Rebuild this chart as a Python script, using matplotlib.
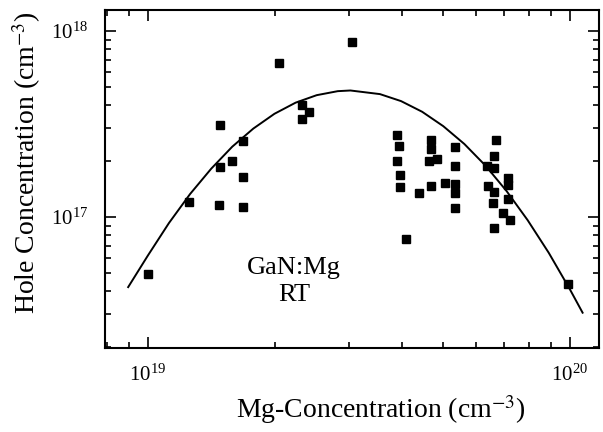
import numpy as np
import matplotlib
matplotlib.use("Agg")
import matplotlib.pyplot as plt
from matplotlib.ticker import LogLocator, LogFormatterMathtext, NullFormatter

plt.rcParams['font.family'] = ['Liberation Serif', 'DejaVu Serif']
plt.rcParams['mathtext.fontset'] = 'stix'

# measured points: Mg concentration (cm^-3) and hole concentration (cm^-3)
mg_conc = [1.0e19, 1.25e19, 1.475e19, 1.68e19, 1.486e19, 1.68e19, 1.58e19,
           1.486e19, 1.68e19, 2.05e19, 2.32e19, 2.41e19, 2.32e19, 3.05e19,
           3.885e19, 3.94e19, 3.885e19, 3.956e19, 3.956e19, 4.39e19, 4.08e19,
           4.70e19, 4.70e19, 4.64e19, 4.85e19, 4.70e19, 5.06e19,
           5.34e19, 5.34e19, 5.34e19, 5.34e19, 5.34e19,
           6.68e19, 6.61e19, 6.37e19, 6.61e19, 6.40e19, 6.61e19, 6.57e19,
           6.61e19, 7.12e19, 7.12e19, 7.12e19, 6.95e19, 7.21e19, 9.91e19]
hole_conc = [4.94e16, 1.20e17, 1.166e17, 1.126e17, 3.13e17, 2.57e17, 1.99e17,
             1.853e17, 1.65e17, 6.75e17, 4.02e17, 3.67e17, 3.37e17, 8.69e17,
             2.75e17, 2.40e17, 2.0e17, 1.674e17, 1.448e17, 1.342e17, 7.64e16,
             2.60e17, 2.32e17, 2.01e17, 2.04e17, 1.475e17, 1.515e17,
             2.385e17, 1.884e17, 1.502e17, 1.354e17, 1.124e17,
             2.58e17, 2.12e17, 1.88e17, 1.837e17, 1.466e17, 1.359e17, 1.19e17,
             8.74e16, 1.62e17, 1.494e17, 1.256e17, 1.05e17, 9.69e16, 4.39e16]

# fitted curve
fit_x = [8.98e18, 1.0e19, 1.122e19, 1.259e19, 1.413e19, 1.585e19, 1.778e19,
         1.995e19, 2.239e19, 2.512e19, 2.818e19, 3.02e19, 3.548e19, 3.981e19,
         4.467e19, 5.012e19, 5.623e19, 6.31e19, 7.079e19, 7.943e19, 8.913e19,
         1.0e20, 1.072e20]
fit_y = [4.2e16, 6.21e16, 9.29e16, 1.33e17, 1.82e17, 2.39e17, 2.99e17,
         3.59e17, 4.12e17, 4.52e17, 4.75e17, 4.79e17, 4.58e17, 4.20e17,
         3.68e17, 3.08e17, 2.47e17, 1.89e17, 1.38e17, 9.62e16, 6.42e16,
         4.09e16, 3.06e16]

fig = plt.figure(figsize=(6.03, 4.32), dpi=100)
ax = fig.add_axes([0.174, 0.1944, 0.819, 0.7824])

ax.plot(fit_x, fit_y, color='black', lw=1.4)
ax.plot(mg_conc, hole_conc, 's', color='black', ms=5.5, mec='black')

ax.set_xscale('log')
ax.set_yscale('log')
ax.set_xlim(7.91e18, 1.171e20)
ax.set_ylim(1.976e16, 1.297e18)

for a in (ax.xaxis, ax.yaxis):
    a.set_major_locator(LogLocator(base=10))
    a.set_major_formatter(LogFormatterMathtext())
    a.set_minor_locator(LogLocator(base=10, subs=np.arange(2, 10)))
    a.set_minor_formatter(NullFormatter())

ax.tick_params(which='both', direction='in', top=True, right=True,
               width=1.2, labelsize=15)
ax.tick_params(which='major', length=8, pad=12)
ax.tick_params(which='minor', length=4)
for s in ax.spines.values():
    s.set_linewidth(1.5)

xl = ax.set_xlabel('Mg-Concentration (cm$^{-3}$)', fontsize=20, va='center')
yl = ax.set_ylabel('Hole Concentration (cm$^{-3}$)', fontsize=20, va='center')
ax.xaxis.set_label_coords(0.559, -0.183)
ax.yaxis.set_label_coords(-0.158, 0.55)

ax.text(2.22e19, 4.5e16, 'GaN:Mg\nRT', fontsize=19, ha='center',
        va='center', linespacing=1.25)

fig.savefig('out.png', dpi=100)
